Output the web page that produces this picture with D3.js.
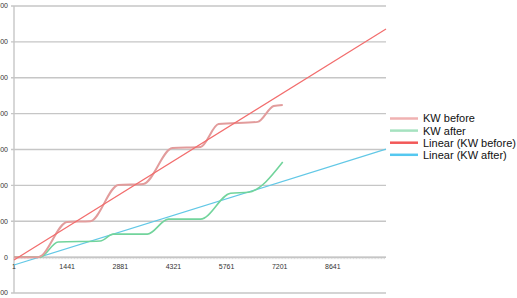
<!DOCTYPE html>
<html>
<head>
<meta charset="utf-8">
<script src="https://cdn.jsdelivr.net/npm/d3@7"></script>
<style>
	html, body { margin: 0; padding: 0; background: #fff; }
	svg { display: block; font-family: "Liberation Sans", Arial, sans-serif; }
</style>
</head>
<body>
<svg width="517" height="298"></svg>
<script>
(function () {

// Minutes since start (category axis) and kW readings.
var beforeMinutes = [1, 653, 1441, 2066, 2827, 3506, 4294, 5055, 5544, 6604, 7038, 7283];
var beforeValues  = [0, 0, 98, 100, 201, 204, 304, 307, 371, 377, 421, 424];

var afterMinutes = [1, 707, 1196, 2338, 2691, 3615, 4185, 5055, 5870, 6359, 7283];
var afterValues  = [0, 0, 42, 45, 64, 64, 106, 106, 178, 181, 265];

// Linear trend lines, value at first and last category.
var trendMinutes = [1, 10081];
var trendBefore  = [-8, 636];
var trendAfter   = [-22, 301];

var xTickValues = [1, 1441, 2881, 4321, 5761, 7201, 8641];
var yTickValues = [-100, 0, 100, 200, 300, 400, 500, 600, 700];

var legendNames = ['KW before', 'KW after', 'Linear (KW before)', 'Linear (KW after)'];

var zip = function (xs, ys) { return xs.map(function (x, i) { return { m: x, v: ys[i] }; }); };

var svg = d3.select('svg');

var x = d3.scaleLinear().domain([1, 10081]).range([14, 386]);
var y = d3.scaleLinear().domain([-100, 700]).range([293, 6]);

// Horizontal grid lines and the value labels (partly clipped at the left edge).
var drawGrid = function () {
	var grid = svg.append('g').attr('class', 'grid');
	grid.selectAll('line')
		.data(yTickValues.filter(function (d) { return d !== 0; }))
		.enter().append('line')
			.attr('x1', 11).attr('x2', x.range()[1])
			.attr('y1', y).attr('y2', y)
			.style('stroke', '#c6c6c6')
			.style('stroke-width', 1.4);

	grid.selectAll('text')
		.data(yTickValues)
		.enter().append('text')
			.attr('x', 8)
			.attr('y', y)
			.attr('dy', '0.35em')
			.attr('text-anchor', 'end')
			.style('font-size', '7px')
			.style('fill', '#333')
			.text(function (d) { return d; });

	svg.append('line')
		.attr('x1', 14).attr('x2', 14)
		.attr('y1', y(700)).attr('y2', y(-100))
		.style('stroke', '#c6c6c6')
		.style('stroke-width', 1.4);
};

// Category axis at zero, drawn with dense minor ticks like the original.
var drawXAxis = function () {
	var axis = svg.append('g')
		.attr('transform', 'translate(0,' + y(0) + ')');

	axis.append('line')
		.attr('x1', 14).attr('x2', x.range()[1])
		.style('stroke', '#b4b4b4')
		.style('stroke-width', 1.2);

	axis.selectAll('line.minor')
		.data(d3.range(1, 10081, 40))
		.enter().append('line')
			.attr('class', 'minor')
			.attr('x1', x).attr('x2', x)
			.attr('y1', 0).attr('y2', 2)
			.style('stroke', '#c4c4c4')
			.style('stroke-width', 0.6);

	axis.selectAll('text')
		.data(xTickValues)
		.enter().append('text')
			.attr('x', x)
			.attr('y', 12)
			.attr('text-anchor', 'middle')
			.style('font-size', '7px')
			.style('fill', '#333')
			.text(function (d) { return d; });
};

var drawSeries = function () {
	var smooth = d3.line()
		.x(function (d) { return x(d.m); })
		.y(function (d) { return y(d.v); })
		.curve(d3.curveMonotoneX);
	var straight = d3.line()
		.x(function (d) { return x(d.m); })
		.y(function (d) { return y(d.v); });

	var series = [
		{ data: zip(trendMinutes, trendAfter), gen: straight, color: '#62c8e6', width: 1.2 },
		{ data: zip(afterMinutes, afterValues), gen: smooth, color: '#72d49c', width: 1.6 },
		{ data: zip(beforeMinutes, beforeValues), gen: smooth, color: '#e29c9c', width: 2 },
		{ data: zip(trendMinutes, trendBefore), gen: straight, color: '#f26d6d', width: 1.2 }
	];

	svg.append('g').selectAll('path')
		.data(series)
		.enter().append('path')
			.attr('d', function (d) { return d.gen(d.data); })
			.style('fill', 'none')
			.style('stroke', function (d) { return d.color; })
			.style('stroke-width', function (d) { return d.width; });
};

var drawLegend = function () {
	var colors = ['#f0b2b2', '#a6e2c0', '#f25858', '#55c8f0'];
	var rows = svg.append('g').selectAll('g')
		.data(legendNames)
		.enter().append('g')
			.attr('transform', function (d, i) { return 'translate(390,' + (118.5 + i * 12.1) + ')'; });

	rows.append('line')
		.attr('x1', 0).attr('x2', 28)
		.style('stroke', function (d, i) { return colors[i]; })
		.style('stroke-width', 2.5);

	rows.append('text')
		.attr('x', 33)
		.attr('dy', '0.36em')
		.style('font-size', '11px')
		.style('fill', '#111')
		.text(function (d) { return d; });
};

drawGrid();
drawXAxis();
drawSeries();
drawLegend();

})();
</script>
</body>
</html>
